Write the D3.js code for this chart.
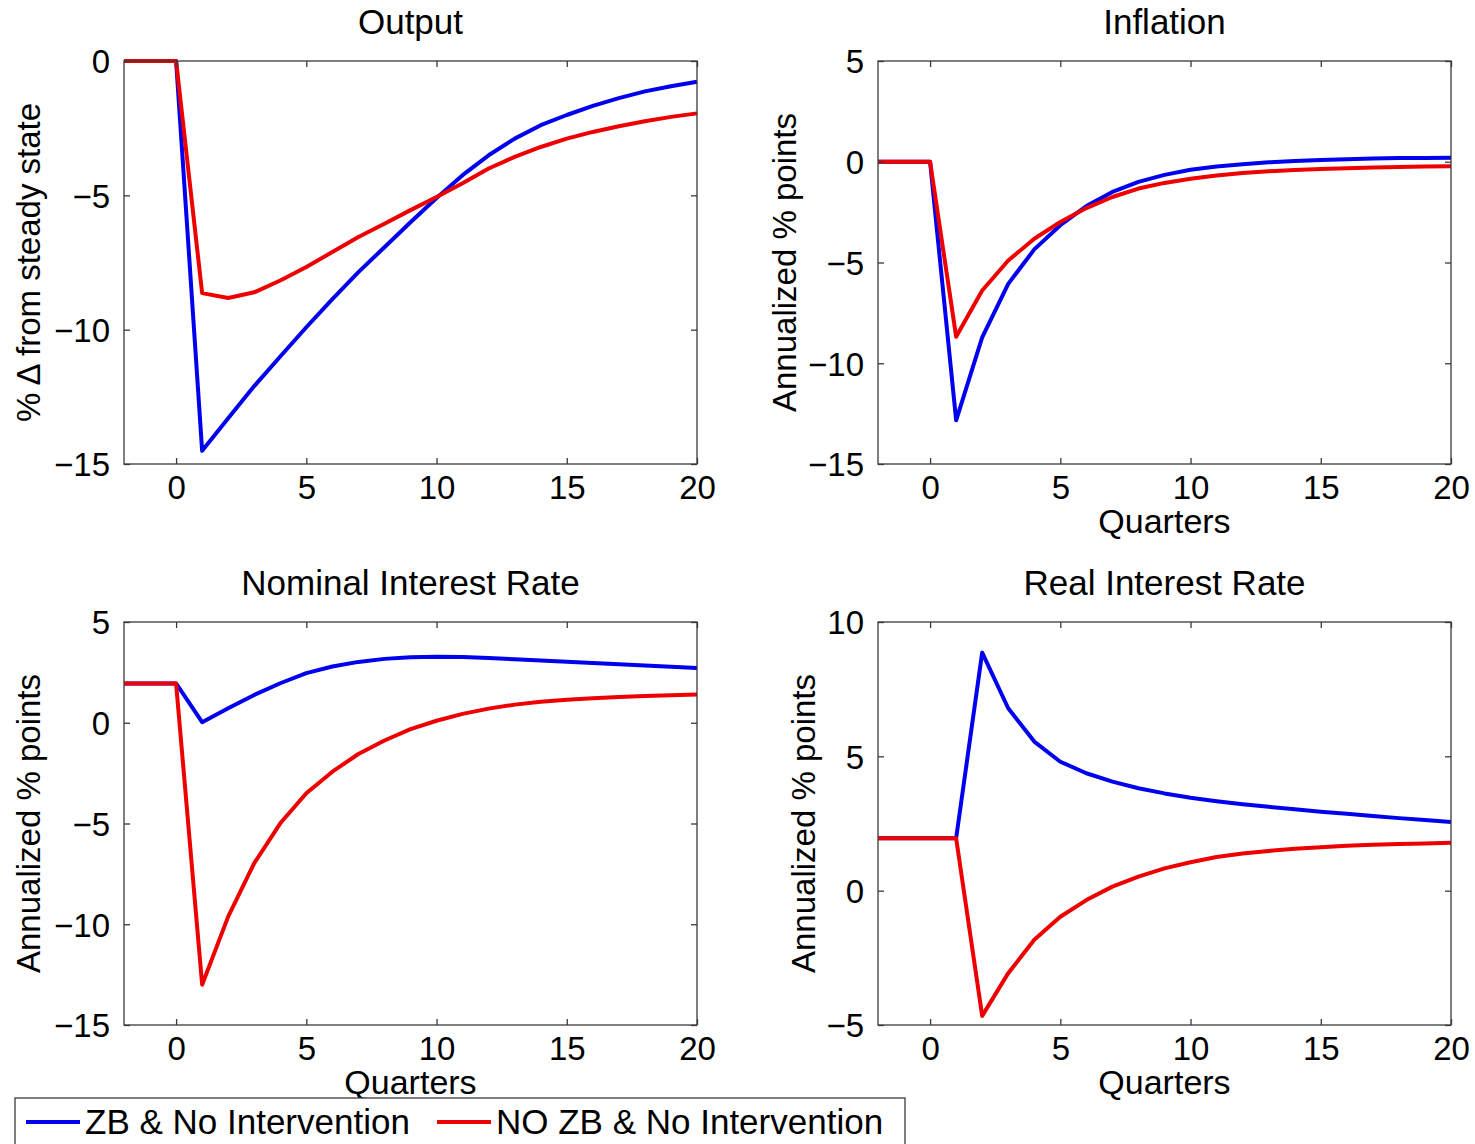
<!DOCTYPE html>
<html>
<head>
<meta charset="utf-8">
<script src="https://cdn.jsdelivr.net/npm/d3@7/dist/d3.min.js"></script>
<style>
  html, body { margin: 0; padding: 0; background: #fff; }
  svg { display: block; font-family: "Liberation Sans", Arial, Helvetica, sans-serif; }
</style>
</head>
<body>
<svg id="chart" width="1475" height="1144"></svg>
<script>
// Impulse responses, quarters -2 .. 20
const quarters = d3.range(-2, 21);
const xTicks = [0, 5, 10, 15, 20];

const seriesNames = ["ZB & No Intervention", "NO ZB & No Intervention"];
const seriesColors = ["#0000ee", "#ee0000"];

// Output (% deviation from steady state)
const outputZB   = [0, 0, 0, -14.51, -13.3, -12.1, -11.0, -9.91, -8.86, -7.86, -6.93, -6.0, -5.1, -4.25, -3.51, -2.89, -2.39, -2.01, -1.67, -1.38, -1.13, -0.94, -0.77];
const outputNoZB = [0, 0, 0, -8.64, -8.82, -8.61, -8.17, -7.67, -7.11, -6.55, -6.06, -5.55, -5.06, -4.55, -4.0, -3.57, -3.2, -2.89, -2.64, -2.43, -2.24, -2.08, -1.95];

// Inflation (annualized % points)
const inflationZB   = [0, 0, 0, -12.83, -8.72, -6.06, -4.35, -3.15, -2.2, -1.5, -1.0, -0.65, -0.4, -0.24, -0.12, -0.03, 0.04, 0.09, 0.13, 0.16, 0.18, 0.19, 0.2];
const inflationNoZB = [0, 0, 0, -8.68, -6.39, -4.9, -3.82, -2.99, -2.3, -1.75, -1.33, -1.05, -0.84, -0.68, -0.56, -0.47, -0.41, -0.36, -0.32, -0.29, -0.26, -0.24, -0.22];

// Nominal interest rate (annualized % points)
const nominalZB   = [1.95, 1.95, 1.95, 0.03, 0.72, 1.38, 1.96, 2.46, 2.79, 3.02, 3.17, 3.25, 3.28, 3.26, 3.21, 3.15, 3.09, 3.03, 2.97, 2.9, 2.84, 2.78, 2.72];
const nominalNoZB = [1.95, 1.95, 1.95, -13.0, -9.62, -6.97, -4.99, -3.5, -2.43, -1.55, -0.88, -0.32, 0.1, 0.44, 0.7, 0.9, 1.04, 1.14, 1.22, 1.28, 1.33, 1.37, 1.4];

// Real interest rate (annualized % points)
const realZB   = [1.95, 1.95, 1.95, 1.95, 8.86, 6.79, 5.55, 4.8, 4.37, 4.06, 3.81, 3.62, 3.46, 3.33, 3.22, 3.12, 3.03, 2.94, 2.86, 2.78, 2.7, 2.63, 2.56];
const realNoZB = [1.95, 1.95, 1.95, 1.95, -4.66, -3.07, -1.83, -0.97, -0.35, 0.15, 0.52, 0.83, 1.06, 1.25, 1.38, 1.48, 1.56, 1.62, 1.67, 1.71, 1.74, 1.76, 1.78];

const panels = [
  { title: "Output", ylabel: "% \u0394 from steady state", xlabel: "",
    yDomain: [-15, 0], yTicks: [-15, -10, -5, 0], series: [outputZB, outputNoZB],
    left: 124, top: 61, labelX: 28 },
  { title: "Inflation", ylabel: "Annualized % points", xlabel: "Quarters",
    yDomain: [-15, 5], yTicks: [-15, -10, -5, 0, 5], series: [inflationZB, inflationNoZB],
    left: 878, top: 61, labelX: 784 },
  { title: "Nominal Interest Rate", ylabel: "Annualized % points", xlabel: "Quarters",
    yDomain: [-15, 5], yTicks: [-15, -10, -5, 0, 5], series: [nominalZB, nominalNoZB],
    left: 124, top: 622, labelX: 28 },
  { title: "Real Interest Rate", ylabel: "Annualized % points", xlabel: "Quarters",
    yDomain: [-5, 10], yTicks: [-5, 0, 5, 10], series: [realZB, realNoZB],
    left: 878, top: 622, labelX: 803 }
];

const W = 573, H = 403;
const svg = d3.select("#chart");
const axisColor = "#3a3a3a";
const fmt = d3.format("");

panels.forEach(p => {
  const g = svg.append("g").attr("transform", `translate(${p.left},${p.top})`);
  const x = d3.scaleLinear().domain([-2, 20]).range([0, W]);
  const y = d3.scaleLinear().domain(p.yDomain).range([H, 0]);

  // data lines
  const line = d3.line().x((d, i) => x(quarters[i])).y(d => y(d));
  p.series.forEach((vals, k) => {
    g.append("path")
      .datum(vals)
      .attr("d", line)
      .attr("fill", "none")
      .attr("stroke", seriesColors[k])
      .attr("stroke-width", 4)
      .attr("stroke-linejoin", "round");
  });

  // inward ticks on all four sides
  const tl = 6;
  const bottom = d3.axisBottom(x).tickValues(xTicks).tickSize(-tl).tickFormat(fmt).tickPadding(12);
  const top = d3.axisTop(x).tickValues(xTicks).tickSize(-tl).tickFormat("");
  const left = d3.axisLeft(y).tickValues(p.yTicks).tickSize(-tl).tickFormat(fmt).tickPadding(14);
  const right = d3.axisRight(y).tickValues(p.yTicks).tickSize(-tl).tickFormat("");

  const gb = g.append("g").attr("transform", `translate(0,${H})`).call(bottom);
  const gt = g.append("g").call(top);
  const gl = g.append("g").call(left);
  const gr = g.append("g").attr("transform", `translate(${W},0)`).call(right);

  [gb, gt, gl, gr].forEach(a => {
    a.select(".domain").remove();
    a.selectAll(".tick line").attr("stroke", axisColor).attr("stroke-width", 1.3);
    a.selectAll(".tick text").attr("fill", "#000").attr("font-size", 33)
      .attr("font-family", "'Liberation Sans', Arial, sans-serif");
  });
  gb.selectAll(".tick text").attr("dy", "0.71em");
  gl.selectAll(".tick text").attr("dy", "0.36em");

  // frame
  g.append("rect")
    .attr("x", 0).attr("y", 0).attr("width", W).attr("height", H)
    .attr("fill", "none").attr("stroke", axisColor).attr("stroke-width", 1.3);

  // title
  g.append("text")
    .attr("x", W / 2).attr("y", -27)
    .attr("text-anchor", "middle")
    .attr("font-size", 35)
    .text(p.title);

  // y label
  svg.append("text")
    .attr("transform", `translate(${p.labelX},${p.top + H / 2}) rotate(-90)`)
    .attr("text-anchor", "middle")
    .attr("dominant-baseline", "central")
    .attr("font-size", 33)
    .text(p.ylabel);

  // x label
  if (p.xlabel) {
    g.append("text")
      .attr("x", W / 2).attr("y", H + 69)
      .attr("text-anchor", "middle")
      .attr("font-size", 34)
      .text(p.xlabel);
  }
});

// legend
const legend = svg.append("g");
legend.append("rect")
  .attr("x", 15).attr("y", 1098).attr("width", 890).attr("height", 60)
  .attr("fill", "#fff").attr("stroke", axisColor).attr("stroke-width", 1.3);
const legendX = [26, 437];
seriesNames.forEach((name, k) => {
  legend.append("line")
    .attr("x1", legendX[k]).attr("x2", legendX[k] + 54)
    .attr("y1", 1122).attr("y2", 1122)
    .attr("stroke", seriesColors[k]).attr("stroke-width", 4);
  legend.append("text")
    .attr("x", legendX[k] + 59).attr("y", 1134)
    .attr("font-size", 35)
    .text(name);
});
</script>
</body>
</html>
